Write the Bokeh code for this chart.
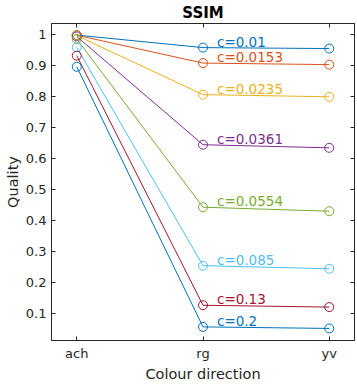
from bokeh.plotting import figure
from bokeh.models import Range1d, LinearAxis, FixedTicker, ColumnDataSource
from bokeh.embed import file_html
from bokeh.resources import INLINE

directions = ["ach", "rg", "yv"]
contrasts = [0.01, 0.0153, 0.0235, 0.0361, 0.0554, 0.085, 0.13, 0.2]
ach = [0.9995, 0.999, 0.998, 0.995, 0.987, 0.960, 0.933, 0.897]
rg = [0.959, 0.909, 0.807, 0.645, 0.443, 0.254, 0.126, 0.056]
yv = [0.956, 0.904, 0.800, 0.635, 0.430, 0.244, 0.120, 0.051]
colors = ["#0072BD", "#D95319", "#EDB120", "#7E2F8E", "#77AC30", "#4DBEEE", "#A2142F", "#0072BD"]
yticks = [0.1, 0.2, 0.3, 0.4, 0.5, 0.6, 0.7, 0.8, 0.9, 1]
ytick_labels = ["0.1", "0.2", "0.3", "0.4", "0.5", "0.6", "0.7", "0.8", "0.9", "1"]

FONT = "DejaVu Sans"
AX = "#262626"

xpos = list(range(1, len(directions) + 1))

p = figure(width=357, height=384, x_range=Range1d(0.8, 3.2), y_range=Range1d(0.012, 1.037),
           output_backend="svg", toolbar_location=None,
           min_border_left=51, min_border_right=3, min_border_top=22, min_border_bottom=43)
p.background_fill_color = "white"
p.border_fill_color = "white"
p.grid.visible = False
p.outline_line_color = AX
p.outline_line_alpha = 1
p.outline_line_width = 1

p.title.text = "SSIM"
p.title.align = "center"
p.title.text_font = FONT
p.title.text_font_size = "15px"
p.title.text_font_style = "bold"
p.title.text_color = "black"
p.title.standoff = 3

xt = FixedTicker(ticks=xpos)
yt = FixedTicker(ticks=yticks)

def style(ax, show_labels):
    ax.major_tick_in = 4
    ax.major_tick_out = 0
    ax.minor_tick_line_color = None
    ax.axis_line_color = AX
    ax.major_tick_line_color = AX
    ax.major_label_text_font = FONT
    ax.axis_label_text_font = FONT
    ax.axis_label_text_font_style = "normal"
    ax.axis_label_text_color = AX
    ax.axis_label_text_font_size = "14.5px"
    if show_labels:
        ax.major_label_text_color = AX
        ax.major_label_text_font_size = "13px"
    else:
        ax.major_label_text_color = None
        ax.major_label_text_font_size = "1px"
        ax.major_label_standoff = 0

p.xaxis.ticker = xt
p.xaxis.major_label_overrides = dict(zip(xpos, directions))
p.xaxis.axis_label = "Colour direction"
p.yaxis.ticker = yt
p.yaxis.major_label_overrides = dict(zip(yticks, ytick_labels))
p.yaxis.axis_label = "Quality"
style(p.xaxis[0], True)
style(p.yaxis[0], True)
p.xaxis.major_label_standoff = 5
p.xaxis.axis_label_standoff = 2
p.yaxis.major_label_standoff = 5
p.yaxis.axis_label_standoff = 2

top = LinearAxis(ticker=FixedTicker(ticks=xpos))
right = LinearAxis(ticker=FixedTicker(ticks=yticks))
style(top, False)
style(right, False)
p.add_layout(top, "above")
p.add_layout(right, "right")

for i, c in enumerate(contrasts):
    ys = [ach[i], rg[i], yv[i]]
    src = ColumnDataSource(dict(x=xpos, y=ys))
    p.line("x", "y", source=src, line_color=colors[i], line_width=1)
    p.scatter("x", "y", source=src, marker="circle", size=9, fill_color=None,
              line_color=colors[i], line_width=1)
    lab = ColumnDataSource(dict(x=[xpos[1]], y=[rg[i]], t=["c=" + str(c)]))
    p.text("x", "y", text="t", source=lab, text_color=colors[i], text_font_size="13.5px",
           text_font={"value": FONT}, text_align="left", text_baseline="middle",
           x_offset=14, y_offset=-6)

open("out.html", "w").write(file_html(p, INLINE))
